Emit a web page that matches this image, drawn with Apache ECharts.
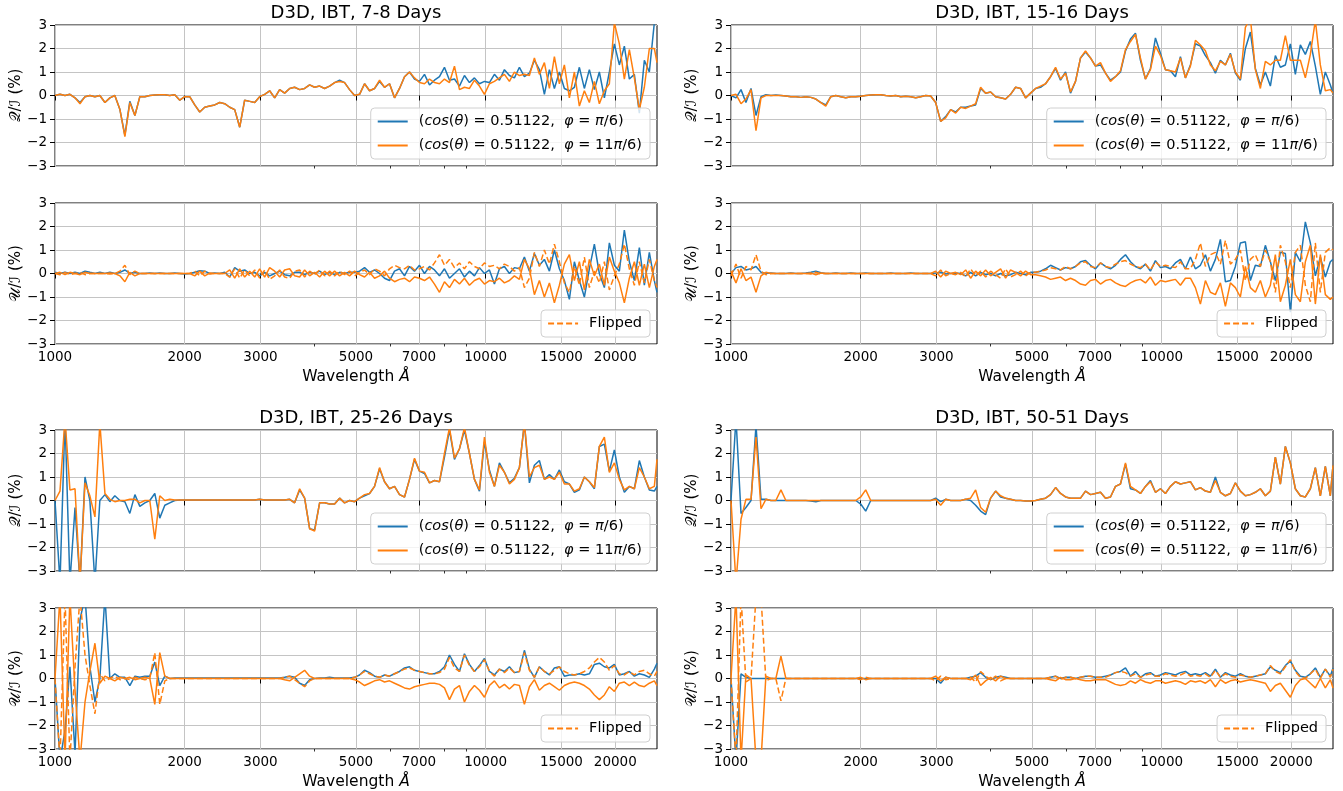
<!DOCTYPE html>
<html>
<head>
<meta charset="utf-8">
<title>D3D, IBT polarisation spectra</title>
<script src="https://cdn.jsdelivr.net/npm/echarts@6/dist/echarts.min.js"></script>
<style>
  html, body { margin: 0; padding: 0; background: #ffffff; }
  #chart { width: 1343px; height: 791px; }
</style>
</head>
<body>
<div id="chart"></div>
<script>
// wavelength grid (Angstrom) shared by every curve
const wavelength = [
  1000, 1027, 1055, 1083, 1113, 1143, 1174, 1205, 1238, 1271,
  1306, 1341, 1377, 1415, 1453, 1492, 1533, 1574, 1617, 1660,
  1705, 1751, 1799, 1847, 1897, 1949, 2001, 2055, 2111, 2168,
  2227, 2287, 2349, 2413, 2478, 2545, 2614, 2685, 2757, 2832,
  2909, 2987, 3068, 3151, 3237, 3324, 3414, 3507, 3601, 3699,
  3799, 3902, 4007, 4116, 4227, 4342, 4459, 4580, 4704, 4831,
  4962, 5096, 5234, 5376, 5521, 5671, 5824, 5982, 6144, 6310,
  6481, 6656, 6836, 7021, 7211, 7407, 7607, 7813, 8024, 8242,
  8465, 8694, 8929, 9171, 9419, 9674, 9936, 10205, 10481, 10765,
  11057, 11356, 11663, 11979, 12303, 12637, 12979, 13330, 13691, 14062,
  14443, 14834, 15235, 15648, 16072, 16507, 16954, 17413, 17885, 18369,
  18867, 19378, 19903, 20442, 20995, 21564, 22148, 22748, 23364, 23997,
  24647, 25000
];

const majorTicks = [1000, 2000, 3000, 5000, 7000, 10000, 15000, 20000];
const minorTicks = [4000, 6000, 8000, 9000];

const panelTitles = ['D3D, IBT, 7-8 Days', 'D3D, IBT, 15-16 Days', 'D3D, IBT, 25-26 Days', 'D3D, IBT, 50-51 Days'];

// ---- 7-8 days ----
const qBlue7 = [
  0, 0.05, 0, 0.05, -0.1, -0.3, -0.05, 0, -0.05, 0,
  -0.3, -0.1, 0, -0.6, -1.7, -0.25, -0.85, -0.05, -0.05, 0,
  0.02, 0.03, 0.03, 0, 0.03, -0.2, -0.05, -0.05, -0.4, -0.7,
  -0.5, -0.45, -0.4, -0.3, -0.35, -0.5, -0.6, -1.35, -0.2, -0.25,
  -0.3, -0.05, 0.05, 0.2, -0.1, 0.25, 0.1, 0.3, 0.35, 0.25,
  0.3, 0.45, 0.35, 0.4, 0.3, 0.4, 0.55, 0.65, 0.55, 0.25,
  0, 0.05, 0.5, 0.2, 0.3, 0.6, 0.35, 0.5, -0.1, 0.3,
  0.8, 1.0, 0.7, 0.6, 0.9, 0.45, 0.65, 0.8, 1.2, 0.65,
  0.7, 0.4, 0.85, 0.55, 0.75, 0.5, 0.6, 0.55, 0.9, 0.65,
  1.1, 0.85, 0.75, 1.2, 0.8, 0.95, 1.5, 1.1, 0.05, 1.1,
  0.3, 1.0, 0.3, 0.2, 0.35, 1.2, 0.3, 1.1, 0.25, 1.0,
  -0.1, 1.0, 2.2, 1.3, 2.1, 0.7, 0.9, -0.75, 1.5, 1.0,
  3.1, 3.2
];
const qOrange7 = [
  0, 0.05, 0, 0.05, -0.1, -0.35, -0.05, 0, -0.05, 0,
  -0.3, -0.1, 0, -0.6, -1.75, -0.3, -0.85, -0.05, -0.05, 0,
  0.02, 0.03, 0.03, 0, 0.03, -0.2, -0.05, -0.05, -0.4, -0.7,
  -0.5, -0.45, -0.4, -0.3, -0.35, -0.5, -0.6, -1.35, -0.2, -0.25,
  -0.3, -0.05, 0.05, 0.2, -0.1, 0.25, 0.1, 0.3, 0.35, 0.25,
  0.3, 0.45, 0.35, 0.4, 0.3, 0.4, 0.55, 0.6, 0.55, 0.25,
  0, 0.05, 0.5, 0.2, 0.3, 0.65, 0.35, 0.5, -0.1, 0.3,
  0.8, 1.0, 0.75, 0.55, 0.5, 0.7, 0.55, 0.5, 0.7, 0.55,
  1.25, 0.25, 0.35, 0.3, 0.65, 0.4, 0.05, 0.5, 0.6, 0.75,
  0.9, 0.6, 1.0, 0.85, 0.9, 0.85, 1.6, 0.9, 1.4, 0.3,
  1.65, 0.5, 1.3, -0.1, 1.0, -0.45, 0.2, -0.3, 0.6, -0.35,
  0.2, 0.5, 3.1, 2.2, 0.7, 1.95, 0.75, -0.6, 0.35, 2.0,
  2.0, 1.4
];
const uBlue7 = [
  0.05, 0, 0.05, 0, 0.05, 0, 0.1, 0.05, 0, 0.05,
  0, 0.05, 0, 0.05, 0.15, 0, 0.05, 0, 0, 0.02,
  0, 0.02, 0, 0, 0.02, 0, -0.02, 0, 0.05, 0.12,
  0.1, 0, 0.02, 0, 0.05, -0.15, 0.25, 0.1, 0.15, 0,
  0.05, -0.1, 0.05, -0.1, 0, 0.1, -0.05, -0.1, 0.05, 0.05,
  -0.05, 0.05, 0, 0.1, -0.05, 0.05, -0.05, 0.05, 0, 0.05,
  0.05, 0.1, 0.25, 0.05, 0.15, 0, -0.2, -0.3, 0.1, 0.2,
  -0.1, 0.3, 0.1, 0.35, 0, 0.3, 0.15, -0.1, 0.2, -0.2,
  0, 0.2, -0.15, 0.1, -0.1, 0.25, 0, 0.15, -0.45, 0.2,
  0.3, 0, 0.25, 0.2, 0.7, 0.1, 0.85, 0.35, 0.6, 0.1,
  1.0, 0.2, -0.3, -1.1, 0.5, -0.3, -1.0, 0.2, 1.25, 0,
  -0.6, 1.3, 0.35, 0.1, 1.85, 0.5, -0.3, 1.1, -0.5, 0.9,
  -0.3, -0.8
];
const uOrange7 = [
  0, 0.05, -0.05, 0.05, 0, -0.05, 0.05, 0, 0, 0,
  0, 0.02, 0, -0.1, -0.35, 0.05, -0.1, 0, 0, 0,
  0, 0, 0, 0, 0, 0, 0, 0, -0.1, 0.1,
  -0.1, 0.02, 0, 0, 0, 0.15, -0.2, 0.2, -0.15, 0.1,
  -0.15, 0.2, -0.15, 0.25, 0.1, -0.15, 0.15, 0.2, -0.1, -0.15,
  0.15, -0.1, 0.05, -0.15, 0.1, -0.1, 0.1, -0.1, 0.05, -0.1,
  0.1, -0.05, -0.15, 0.05, -0.2, -0.1, 0.1, -0.2, -0.35, -0.25,
  -0.2, -0.35, -0.15, -0.2, -0.3, -0.15, -0.45, -0.8, -0.35, -0.6,
  -0.25, -0.45, -0.2, -0.5, -0.3, -0.2, -0.45, -0.3, -0.35, -0.2,
  -0.4, -0.3, -0.1, -0.25, 0.6, 0.2, -0.9, -0.3, -1.0, -0.4,
  -1.25, -0.5, 0.4, 0.8, -0.3, 0.5, -0.7, 0.6, -0.1, 0.4,
  -0.5, 0.7, 0.1, -0.4, -1.25, -0.2, 0.5, -0.5, 0.4, -0.6,
  0.3, 0.6
];

// ---- 15-16 days ----
const qBlue15 = [
  0, -0.1, 0.25, -0.3, 0.3, -0.85, -0.05, 0.03, 0, 0.02,
  0, -0.02, -0.05, -0.05, -0.08, -0.05, -0.08, -0.15, -0.3, -0.4,
  -0.05, 0, -0.05, -0.1, -0.05, -0.05, -0.03, 0, 0.02, 0.03,
  0.03, 0, -0.02, 0, -0.05, -0.03, -0.05, -0.1, -0.05, 0,
  -0.02, -0.3, -1.1, -0.9, -0.6, -0.7, -0.5, -0.5, -0.45, -0.4,
  0.3, 0.1, 0.15, -0.05, -0.1, -0.15, 0.05, 0.35, 0.3, -0.1,
  0.1, 0.3, 0.35, 0.5, 0.8, 1.15, 0.65, 1.0, 0.1, 0.6,
  1.6, 1.85, 1.6, 1.25, 1.3, 0.95, 0.65, 0.8, 1.0, 1.9,
  2.4, 2.65, 1.5, 0.7, 1.15, 2.45, 1.8, 1.1, 1.05, 0.8,
  1.65, 0.75, 1.3, 2.2, 2.1, 1.7, 1.4, 0.95, 1.5, 1.3,
  1.8, 0.95, 0.65, 2.0, 2.7, 1.15, 0.45, 1.0, 0.4, 1.7,
  1.2, 1.3, 2.2, 0.9, 2.15, 1.75, 2.3, 1.25, 0.05, 1.0,
  0.45, 0.1
];
const qOrange15 = [
  0, 0.05, -0.35, -0.15, 0.25, -1.5, -0.1, 0, 0, 0,
  0, -0.02, -0.05, -0.05, -0.08, -0.05, -0.08, -0.15, -0.3, -0.45,
  -0.05, 0, -0.05, -0.1, -0.05, -0.05, -0.03, 0, 0.02, 0.03,
  0.03, 0, -0.02, 0, -0.05, -0.03, -0.05, -0.1, -0.05, 0,
  -0.02, -0.3, -1.1, -0.95, -0.6, -0.75, -0.5, -0.55, -0.45, -0.35,
  0.35, 0.1, 0.15, -0.05, -0.1, -0.15, 0.05, 0.35, 0.3, -0.1,
  0.1, 0.3, 0.4, 0.5, 0.8, 1.2, 0.7, 0.95, 0.15, 0.6,
  1.6, 1.9, 1.6, 1.25, 1.4, 0.95, 0.6, 0.8, 1.05, 1.95,
  2.3, 2.6, 1.6, 0.7, 1.1, 2.1, 1.7, 1.1, 1.05, 1.0,
  1.6, 0.75, 1.25, 2.35, 2.15, 1.9, 1.3, 1.05, 1.45, 1.3,
  1.75, 1.0, 0.7, 2.9, 3.3, 1.1, 0.3, 1.45, 1.3, 1.5,
  1.5, 2.55, 1.5, 1.5, 1.5, 0.75, 1.75, 3.2, 1.3, 0.2,
  0.25, 0.1
];
const uBlue15 = [
  0, 0.25, 0.3, 0.15, 0.2, 0.3, 0.05, 0, 0.02, 0,
  0, 0, 0.02, 0, 0, 0.02, 0.05, 0.1, 0.03, 0,
  0, 0.02, 0, 0, 0.02, 0, 0, 0.02, 0, 0,
  0, 0, 0.02, 0, 0, 0, 0.02, 0, 0, 0,
  0, 0.02, 0.05, -0.02, 0, 0.02, 0, -0.1, 0.05, -0.1,
  0.05, -0.05, 0, -0.1, 0, -0.1, -0.05, 0.05, 0, -0.05,
  0.05, 0.05, 0.1, 0.2, 0.35, 0.25, 0.15, 0.25, 0.2, 0.3,
  0.5, 0.55, 0.35, 0.2, 0.45, 0.3, 0.2, 0.35, 0.6, 0.8,
  0.5, 0.3, 0.2, 0.4, 0.1, 0.55, 0.25, 0.3, 0.2, 0.45,
  0.6, 0.2, 0.7, 0.2, 0.35, 0.8, 0.1, 0.6, 1.45, -0.35,
  -0.3, 0.3, 1.3, 1.35, -0.3, 0.35, 0.3, 1.2, 0.5, -0.3,
  0.9, 0.85, -1.65, 0.9, 0.5, 2.2, 1.3, -0.1, 0.7, -0.15,
  0.5, 0.6
];
const uOrange15 = [
  0.1, -0.4, 0.2, -0.3, -0.15, -0.8, -0.1, 0.05, 0, 0,
  0, 0, 0, 0, 0, 0, 0.02, -0.05, 0.02, 0,
  0, 0, 0, 0, 0, 0, 0, 0, 0, 0,
  0, 0, 0, 0, 0, 0, 0, 0, 0, 0,
  0, 0.1, -0.15, 0.1, 0, 0.05, -0.05, 0.15, -0.2, 0.1,
  -0.1, 0.15, -0.1, 0.05, 0.2, -0.2, 0.15, 0.05, -0.1, 0.1,
  -0.05, -0.05, -0.1, -0.15, -0.25, -0.2, -0.15, -0.3, -0.2, -0.3,
  -0.45, -0.5, -0.3, -0.25, -0.45, -0.3, -0.25, -0.4, -0.5, -0.55,
  -0.4, -0.3, -0.25, -0.4, -0.15, -0.5, -0.3, -0.35, -0.3, -0.25,
  -0.5, -0.2, -0.2, -0.6, -1.3, -0.3, -0.8, -0.9, -0.4, -1.4,
  -0.4, -0.6, -1.0, 0.3, -0.6, -0.8, -0.3, -1.0, -0.5, 0.8,
  -1.2, -0.5, 0.6, -0.9, -1.2, 0.5, 1.2, -1.3, 0.8, -0.9,
  -1.1, -1.0
];

// ---- 25-26 days ----
const qBlue25 = [
  0, -3.5, 3.5, -3.5, -0.3, -3.5, 1.0, 0, -3.5, 0,
  0.25, -0.05, 0.2, 0, -0.05, -0.55, 0.25, -0.25, -0.1, 0,
  0.3, -0.75, -0.2, -0.1, 0, 0.02, 0.02, 0.02, 0.02, 0.02,
  0.02, 0.02, 0.02, 0.02, 0.02, 0.02, 0.02, 0.02, 0.02, 0.02,
  0.02, 0.05, 0.02, 0.02, 0.02, 0.02, 0.02, 0.05, -0.1, 0.45,
  0.1, -1.2, -1.25, -0.1, -0.1, -0.15, -0.15, 0.1, -0.1, 0,
  -0.05, 0.1, 0.2, 0.3, 0.6, 1.35, 0.8, 0.5, 0.6, 0.25,
  0.15, 0.9, 1.75, 1.25, 1.15, 0.75, 0.85, 0.8, 1.85, 3.0,
  1.75, 2.2, 3.0, 2.0, 0.9, 0.4, 2.5, 1.3, 0.6, 1.6,
  1.2, 0.75, 0.95, 1.4, 3.3, 0.75, 1.5, 1.7, 0.9, 1.1,
  0.9, 1.3, 0.8, 0.7, 0.35, 0.45, 1.0, 0.8, 0.5, 2.3,
  2.4, 1.25, 2.15, 1.0, 0.35, 0.6, 0.5, 1.7, 1.0, 0.45,
  0.4, 0.6
];
const qOrange25 = [
  0, 0.4, 3.5, 0.45, 0.5, -3.5, 0.75, 0.2, -0.7, 3.3,
  0.3, 0.05, -0.05, 0, 0, 0.05, 0.05, -0.1, 0, 0,
  -1.65, 0.2, 0, 0.05, 0.02, 0.02, 0.02, 0.02, 0.02, 0.02,
  0.02, 0.02, 0.02, 0.02, 0.02, 0.02, 0.02, 0.02, 0.02, 0.02,
  0.02, 0.05, 0.02, 0.02, 0.02, 0.02, 0.02, 0.05, -0.1, 0.5,
  0.1, -1.2, -1.3, -0.1, -0.1, -0.15, -0.15, 0.1, -0.1, 0,
  -0.05, 0.1, 0.25, 0.3, 0.6, 1.4, 0.8, 0.5, 0.6, 0.25,
  0.15, 0.9, 1.8, 1.25, 1.2, 0.75, 0.85, 0.8, 2.0, 3.1,
  1.8, 2.2, 3.1, 2.0, 0.9, 0.45, 2.7, 1.2, 0.6, 1.5,
  1.2, 0.7, 0.9, 1.4, 3.3, 1.0, 1.4, 1.5, 0.9, 1.0,
  0.9, 1.2, 0.7, 0.7, 0.4, 0.5, 1.0, 0.8, 0.55, 2.3,
  2.7, 1.2, 1.6, 0.9, 0.45, 0.6, 0.5, 1.4, 1.0, 0.5,
  0.6, 1.75
];
const uBlue25 = [
  0, -3.5, -2.2, 0.5, -3.2, 2.5, 3.5, 0.5, -1.0, 0,
  3.5, 0, 0.2, 0.05, 0.05, -0.3, 0.1, 0.05, 0.1, 0.1,
  0.7, -0.3, 0.1, 0, 0.02, 0.02, 0.02, 0.02, 0.02, 0.02,
  0.02, 0.02, 0.02, 0.02, 0.02, 0.02, 0.02, 0.02, 0.02, 0.02,
  0.02, 0.02, 0.02, 0.02, 0.02, 0.02, 0.05, 0.1, 0.05, -0.2,
  -0.3, -0.05, 0, 0.02, 0.02, 0.05, 0.02, 0.02, 0.02, 0.02,
  0.05, 0.15, 0.35, 0.25, 0.1, 0.05, 0.15, 0.1, 0.2, 0.3,
  0.45, 0.5, 0.35, 0.3, 0.25, 0.2, 0.2, 0.3, 0.5, 1.0,
  0.6, 0.3, 1.05, 0.6, 0.3, 0.55, 0.85, 0.3, 0.15, 0.4,
  0.3, 0.5, 0.25, 0.3, 1.2, 0.4, 0.05, 0.5, 0.3, 0.15,
  0.45, 0.5, 0.1, 0.15, 0.15, 0.2, 0.15, 0.2, 0.6, 0.65,
  0.5, 0.45, 0.6, 0.15, 0.2, 0.3, 0.1, 0.2, 0.15, 0.05,
  0.4, 0.65
];
const uOrange25 = [
  0, 3.5, -3.5, 3.5, -0.5, -3.5, -1.0, 0.3, 1.5, -0.2,
  0.1, 0, -0.1, 0.05, 0, 0.05, -0.05, 0, 0.05, 0,
  -1.1, 1.1, 0.1, 0, 0, 0, 0, 0, 0, 0,
  0, 0, 0, 0, 0, 0, 0, 0, 0, 0,
  0, 0, 0, 0, 0, 0, -0.05, -0.1, 0.05, 0.2,
  0.35, 0.1, 0, 0, 0, 0, 0, 0, 0, 0,
  -0.05, -0.15, -0.3, -0.2, -0.1, -0.05, -0.15, -0.1, -0.2, -0.3,
  -0.4, -0.45, -0.35, -0.3, -0.25, -0.2, -0.2, -0.25, -0.4, -0.9,
  -0.45, -0.3, -1.0, -0.55, -0.3, -0.5, -0.8, -0.3, -0.1, -0.4,
  -0.25, -0.45, -0.25, -0.3, -1.1, -0.35, -0.05, -0.5, -0.3, -0.2,
  -0.35, -0.5, -0.3, -0.2, -0.15, -0.2, -0.3, -0.45, -0.7, -0.9,
  -0.7, -0.35, -0.55, -0.2, -0.15, -0.3, -0.15, -0.3, -0.35, -0.2,
  -0.1, -0.3
];

// ---- 50-51 days ----
const qBlue50 = [
  0, 3.5, -0.55, -0.3, 0, 3.2, 0.05, 0.05, 0, 0,
  0, 0, 0, 0, 0, 0, -0.02, -0.05, 0, 0,
  0, 0, 0, 0, 0, 0, -0.15, -0.45, 0, 0,
  0, 0, 0, 0, 0, 0, 0, 0, 0, 0,
  0, 0.1, -0.05, 0.05, 0, 0, 0, 0.05, 0, -0.2,
  -0.45, -0.6, 0.1, 0.4, 0.15, 0.1, 0.05, 0, 0, -0.02,
  -0.02, 0, 0.05, 0.1, 0.25, 0.55, 0.3, 0.15, 0.1, 0.1,
  0.1, 0.4, 0.25, 0.3, 0.35, 0.1, 0.15, 0.6, 0.7, 1.55,
  0.5, 0.45, 0.3, 0.6, 0.85, 0.35, 0.5, 0.3, 0.6, 0.8,
  0.7, 0.75, 0.8, 0.45, 0.55, 0.4, 0.35, 1.0, 0.35, 0.2,
  0.3, 0.75, 0.4, 0.2, 0.25, 0.35, 0.5, 0.2, 0.4, 1.85,
  0.7, 2.3, 1.6, 0.5, 0.2, 0.15, 0.5, 1.4, 0.2, 1.45,
  0.2, 1.5
];
const qOrange50 = [
  0, -3.5, -0.8, 0.05, 0.05, 2.7, -0.35, 0.05, 0, 0,
  0.45, 0, 0, 0, 0, 0, 0, 0, 0, 0,
  0, 0, 0, 0, 0, 0, 0.15, 0.45, 0, 0,
  0, 0, 0, 0, 0, 0, 0, 0, 0, 0,
  0, 0.05, -0.2, 0.05, 0, 0, 0, 0.05, 0.1, 0.45,
  -0.3, -0.5, 0.1, 0.4, 0.2, 0.1, 0.05, 0, 0, -0.02,
  -0.02, 0, 0.05, 0.1, 0.25, 0.55, 0.3, 0.15, 0.1, 0.1,
  0.1, 0.4, 0.25, 0.3, 0.35, 0.1, 0.15, 0.6, 0.7, 1.6,
  0.6, 0.45, 0.3, 0.6, 0.8, 0.35, 0.5, 0.3, 0.6, 0.8,
  0.7, 0.75, 0.8, 0.45, 0.55, 0.4, 0.35, 0.85, 0.35, 0.2,
  0.3, 0.75, 0.4, 0.2, 0.25, 0.35, 0.5, 0.2, 0.4, 1.85,
  0.7, 2.3, 1.6, 0.5, 0.2, 0.15, 0.5, 1.4, 0.2, 1.45,
  0.2, 1.5
];
const uBlue50 = [
  0, -3.5, 0.2, 0.05, 0, 0, 0, 0, 0, 0,
  0, 0, 0, 0, 0, 0, 0, 0, 0, 0,
  0, 0, 0, 0, 0, 0, 0, 0, 0, 0,
  0, 0, 0, 0, 0, 0, 0, 0, 0, 0,
  0, 0, -0.2, 0.05, 0, 0, 0, 0, 0.05, 0.1,
  0.25, 0.05, -0.05, 0.05, 0.1, 0.05, 0, 0, 0, 0,
  0, 0, 0, 0, 0.05, 0.1, 0, 0.05, 0.05, 0,
  0.05, 0.1, 0.1, 0.05, 0.05, 0.1, 0.15, 0.25, 0.3, 0.45,
  0.1, 0.3, 0.05, 0.2, 0.25, 0.1, 0.15, 0.25, 0.2, 0.15,
  0.25, 0.3, 0.15, 0.2, 0.15, 0.25, 0.1, 0.4, 0.05, 0.25,
  0.15, 0.1, 0.2, 0.1, 0.05, 0.1, 0.15, 0.2, 0.5, 0.35,
  0.25, 0.55, 0.75, 0.35, 0.1, 0.05, 0.2, 0.45, 0.05, 0.4,
  0.1, 0.45
];
const uOrange50 = [
  0, 3.5, -3.5, 0.15, 0, -3.5, -3.5, 0.1, 0, 0,
  0.95, 0, 0, 0, 0, 0, 0, 0, 0, 0,
  0, 0, 0, 0, 0, 0, 0.05, -0.05, 0, 0,
  0, 0, 0, 0, 0, 0, 0, 0, 0, 0,
  0, 0.1, -0.1, 0.05, 0, 0, 0, 0, -0.05, 0.15,
  -0.3, -0.1, 0.05, -0.1, 0.1, 0, 0, 0, 0, 0,
  0, 0, 0, 0, -0.05, -0.1, 0.05, -0.05, -0.05, 0,
  -0.05, -0.1, -0.1, -0.05, -0.05, -0.05, -0.15, -0.25, -0.3, -0.25,
  -0.1, -0.2, -0.05, -0.15, -0.2, -0.1, -0.1, -0.2, -0.15, -0.1,
  -0.15, -0.25, -0.1, -0.15, -0.1, -0.2, -0.05, -0.35, -0.05, -0.2,
  -0.1, -0.05, -0.15, -0.1, -0.05, -0.1, -0.15, -0.2, -0.55, -0.3,
  -0.2, -0.5, -0.8, -0.3, -0.05, 0, -0.2, -0.4, 0, -0.4,
  -0.05, -0.4
];

const BLUE = '#1f77b4';
const ORANGE = '#ff7f0e';
const FONT = 'DejaVu Sans';
const W = 1343;

const panels = [
  { title: panelTitles[0], qB: qBlue7, qO: qOrange7, uB: uBlue7, uO: uOrange7, left: 55, top: 25 },
  { title: panelTitles[1], qB: qBlue15, qO: qOrange15, uB: uBlue15, uO: uOrange15, left: 731, top: 25 },
  { title: panelTitles[2], qB: qBlue25, qO: qOrange25, uB: uBlue25, uO: uOrange25, left: 55, top: 430 },
  { title: panelTitles[3], qB: qBlue50, qO: qOrange50, uB: uBlue50, uO: uOrange50, left: 731, top: 430 }
];
const plotW = 602;
const plotH = 141;
const uOffset = 178;

const toPoints = values => wavelength.map((w, i) => [w, values[i]]);

const legendNames = {
  phi1: '({i|cos}({i|θ}) = 0.51122,  {i|φ} = {i|π}/6)',
  phi11: '({i|cos}({i|θ}) = 0.51122,  {i|φ} = 11{i|π}/6)',
  Flipped: 'Flipped'
};

const grid = [];
const xAxis = [];
const yAxis = [];
const series = [];
const title = [];
const legend = [];

panels.forEach((p, pi) => {
  const rows = [
    { top: p.top, kind: 'Q' },
    { top: p.top + uOffset, kind: 'U' }
  ];

  title.push({
    text: p.title,
    left: p.left + plotW / 2,
    top: p.top - 21,
    textAlign: 'center',
    padding: 0,
    textStyle: { fontFamily: FONT, fontSize: 18, fontWeight: 'normal', color: '#000' }
  });

  rows.forEach(row => {
    const gi = grid.length;
    grid.push({
      left: p.left, top: row.top, width: plotW, height: plotH,
      show: true, borderColor: '#000', borderWidth: 1, backgroundColor: 'transparent',
      containLabel: false, outerBoundsMode: 'none'
    });

    const isU = row.kind === 'U';
    xAxis.push({
      type: 'log', logBase: 10, gridIndex: gi, min: 1000, max: 25000, position: 'bottom',
      axisLine: { show: false },
      axisTick: { show: true, customValues: majorTicks, length: 5, lineStyle: { color: '#000', width: 1 } },
      axisLabel: {
        show: isU, customValues: majorTicks, margin: 6,
        fontFamily: FONT, fontSize: 13.5, color: '#000',
        formatter: v => String(Math.round(v))
      },
      splitLine: { show: true, lineStyle: { color: '#c4c4c4', width: 1 } },
      name: isU ? 'Wavelength {i|Å}' : '',
      nameLocation: 'middle',
      nameGap: 25,
      nameTextStyle: {
        fontFamily: FONT, fontSize: 15.5, color: '#000',
        rich: { i: { fontFamily: FONT, fontSize: 15.5, fontStyle: 'italic', color: '#000' } }
      }
    });
    // minor ticks, no labels, no grid
    xAxis.push({
      type: 'log', logBase: 10, gridIndex: gi, min: 1000, max: 25000, position: 'bottom',
      axisLine: { show: false },
      axisTick: { show: true, customValues: minorTicks, length: 2.5, lineStyle: { color: '#000', width: 0.8 } },
      axisLabel: { show: false, customValues: minorTicks },
      splitLine: { show: false }
    });

    yAxis.push({
      type: 'value', gridIndex: gi, min: -3, max: 3, interval: 1,
      axisLine: { show: false },
      axisTick: { show: true, length: 5, lineStyle: { color: '#000', width: 1 } },
      axisLabel: {
        margin: 8, fontFamily: FONT, fontSize: 13.5, color: '#000',
        formatter: v => (v < 0 ? '\u2212' + (-v) : String(v))
      },
      splitLine: { show: true, lineStyle: { color: '#c4c4c4', width: 1 } },
      name: isU ? '\uD835\uDCB0/\u2110 (%)' : '\uD835\uDCAC/\u2110 (%)',
      nameLocation: 'middle',
      nameGap: 31,
      nameTextStyle: { fontFamily: FONT, fontSize: 15, color: '#000' }
    });

    const xi = xAxis.length - 2;
    const line = (name, data, color, dashed) => ({
      name,
      type: 'line',
      xAxisIndex: xi,
      yAxisIndex: gi,
      data: toPoints(data),
      showSymbol: false,
      symbol: 'none',
      clip: true,
      silent: true,
      animation: false,
      lineStyle: { color, width: 1.5, type: dashed ? [6, 3] : 'solid' },
      itemStyle: { color }
    });

    if (!isU) {
      series.push(line('phi1', p.qB, BLUE, false));
      series.push(line('phi11', p.qO, ORANGE, false));
    } else {
      series.push(line(`u1_${pi}`, p.uB, BLUE, false));
      series.push(line(`u11_${pi}`, p.uO, ORANGE, false));
      series.push(line('Flipped', p.uO.map(v => -v), ORANGE, true));
    }

    const legendRight = W - (p.left + plotW - 7);
    legend.push({
      data: isU ? ['Flipped'] : ['phi1', 'phi11'],
      orient: 'vertical',
      right: legendRight,
      top: isU ? row.top + 107 : row.top + 83,
      itemWidth: 30,
      itemHeight: 12,
      itemGap: 9,
      padding: [6, 8, 6, 6],
      borderColor: '#d0d0d0',
      borderWidth: 1,
      borderRadius: 4,
      backgroundColor: 'rgba(255,255,255,0.8)',
      selectedMode: false,
      itemStyle: { opacity: 0 },
      formatter: name => legendNames[name],
      textStyle: {
        fontFamily: FONT, fontSize: 14.5, color: '#000', padding: [0, 0, 0, 6],
        rich: { i: { fontFamily: FONT, fontSize: 14.5, fontStyle: 'italic', color: '#000' } }
      }
    });
  });
});

const chart = echarts.init(document.getElementById('chart'), null, { renderer: 'canvas' });
chart.setOption({
  backgroundColor: '#ffffff',
  animation: false,
  title,
  legend,
  grid,
  xAxis,
  yAxis,
  series
});
</script>
</body>
</html>
